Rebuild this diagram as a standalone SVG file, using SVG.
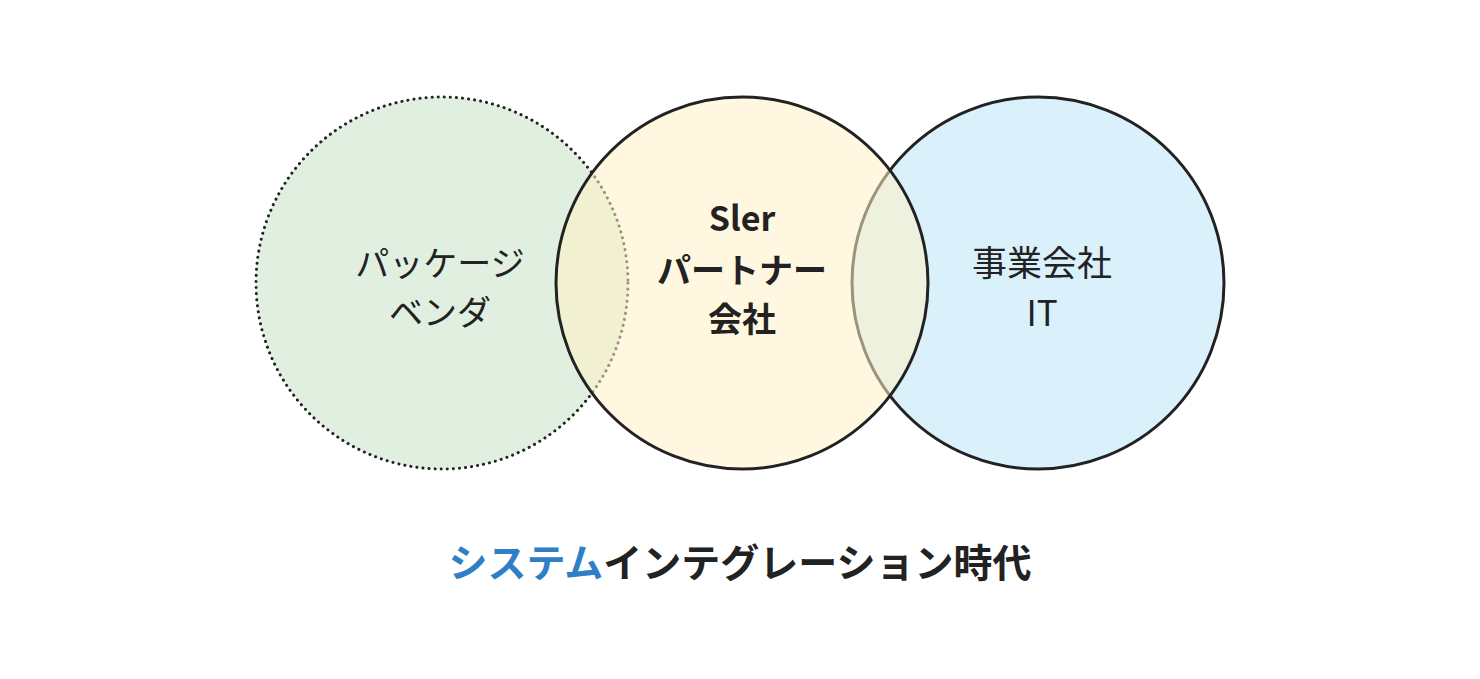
<svg xmlns="http://www.w3.org/2000/svg" width="1480" height="679" viewBox="0 0 1480 679">
<style>
text{font-family:"Noto Sans CJK JP","Noto Sans",sans-serif;fill:#222;text-anchor:middle}
.lbl{font-size:34px;font-weight:400}
.lblr{font-size:35px;font-weight:400}
.bold{font-size:34px;font-weight:700}
.title{font-size:39px;font-weight:700}
.blue{fill:#2f7fc6}
</style>
<rect width="1480" height="679" fill="#ffffff"/>
<g id="node-package">
<circle cx="442" cy="283" r="186" fill="#e0efe0" stroke="#222" stroke-width="3" stroke-dasharray="0.1 6" stroke-linecap="round"/>
</g>
<g id="node-business">
<circle cx="1038" cy="283" r="186" fill="#daf1fb" stroke="#222" stroke-width="3"/>
</g>
<g id="node-sier">
<circle cx="742" cy="283" r="186" fill="#fff0c4" fill-opacity="0.55" stroke="none"/>
<circle cx="742" cy="283" r="186" fill="none" stroke="#222" stroke-width="3"/>
</g>
<g id="labels">
<text class="lbl" x="440" y="276">パッケージ</text>
<text class="lbl" x="440" y="325">ベンダ</text>
<text class="bold" x="742" y="231">Sler</text>
<text class="bold" x="742" y="283">パートナー</text>
<text class="bold" x="742" y="332">会社</text>
<text class="lblr" x="1042" y="276">事業会社</text>
<text class="lblr" x="1042" y="326">IT</text>
</g>
<g id="connectors"></g>
<g id="title">
<text class="title" x="740" y="577"><tspan class="blue">システム</tspan>インテグレーション時代</text>
</g>
</svg>
